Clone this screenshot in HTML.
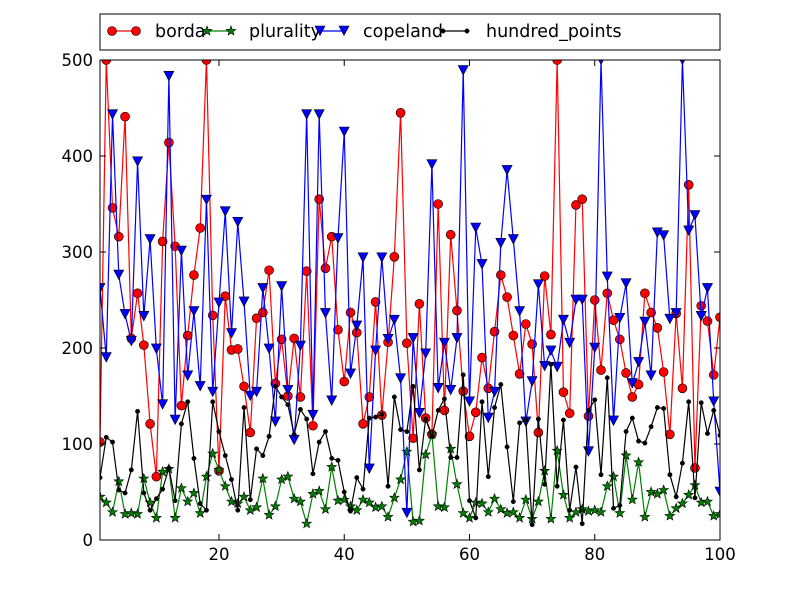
<!DOCTYPE html>
<html><head><meta charset="utf-8"><style>
html,body{margin:0;padding:0;background:#fff;width:800px;height:600px;overflow:hidden}
svg{display:block;font-family:"DejaVu Sans","Liberation Sans",sans-serif}
</style></head><body>
<svg id="chart" width="800" height="600" xmlns="http://www.w3.org/2000/svg">
<rect x="0" y="0" width="800" height="600" fill="#fff"/>
<g id="plot"></g>
<rect x="100" y="60" width="620" height="480" fill="none" stroke="#000" stroke-width="1"/>
<g id="ticks"></g>
<g id="legend">
<rect x="100" y="14" width="620" height="36" fill="#fff" stroke="#000" stroke-width="1"/>
</g>
</svg>
<script>
const borda=[102,500,346,316,441,210,257,203,121,66,311,414,306,140,213,276,325,500,234,72,254,198,199,160,112,231,237,281,163,209,150,210,149,280,119,355,283,316,219,165,237,216,121,149,248,130,206,295,445,205,106,246,127,110,350,135,318,239,155,108,133,190,158,217,276,253,213,173,225,204,112,275,214,500,154,132,349,355,129,250,177,257,229,209,174,149,162,257,237,221,175,110,236,158,370,75,244,228,172,232];
const plurality=[45,39,29,61,27,28,27,64,39,23,71,74,23,54,40,49,28,66,90,73,56,40,38,45,31,34,64,26,35,63,66,43,40,17,48,51,32,76,41,42,35,31,42,39,34,35,24,44,63,92,19,20,89,110,35,34,95,58,28,23,39,38,29,43,32,28,29,23,42,22,40,72,22,93,47,23,29,32,30,31,29,56,66,28,88,42,81,24,50,48,52,25,33,38,47,57,39,40,25,27];
const copeland=[262,190,443,276,235,207,394,233,313,199,141,483,125,301,171,238,160,354,154,247,342,215,331,248,150,154,262,199,123,264,156,104,202,443,130,443,236,145,314,425,173,223,294,74,197,294,209,229,168,28,210,132,194,391,158,205,156,210,489,144,325,287,127,154,309,385,313,238,123,165,266,181,197,180,229,205,250,250,92,200,500,274,124,231,267,163,185,227,171,320,317,230,236,500,322,338,233,262,144,50];
const hundred=[65,107,102,52,49,73,134,49,31,43,53,75,41,121,144,85,38,31,144,113,88,63,31,138,42,95,88,108,160,149,141,110,136,126,69,102,113,85,83,50,30,65,53,127,128,131,56,149,115,113,160,73,126,108,135,147,86,86,172,41,23,144,66,138,162,97,40,122,125,16,126,58,183,56,125,31,76,17,135,146,68,169,33,36,113,127,103,101,118,138,137,68,45,80,144,44,143,111,135,109];
const xTicks=[20,40,60,80,100];
const yTicks=[0,100,200,300,400,500];
const NS="http://www.w3.org/2000/svg";
const X=v=>100+(v-1)*620/99;
const Y=v=>540-v*480/500;
function mk(t,a,p){const e=document.createElementNS(NS,t);for(const k in a)e.setAttribute(k,a[k]);p.appendChild(e);return e;}
function star(cx,cy,r){let p=[];for(let i=0;i<10;i++){const rr=i%2?r*0.42:r;const a=-Math.PI/2+i*Math.PI/5;p.push((cx+rr*Math.cos(a)).toFixed(1)+","+(cy+rr*Math.sin(a)).toFixed(1));}return p.join(" ");}
function marker(g,type,cx,cy,col){
 let m;
 if(type==="o")m=mk("circle",{cx:cx,cy:cy,r:4.5,fill:col,stroke:"#000","stroke-width":0.6},g);
 else if(type==="*")m=mk("polygon",{points:star(cx,cy,5),fill:col,stroke:"#000","stroke-width":0.6},g);
 else if(type==="v")m=mk("polygon",{points:`${cx-5},${cy-5} ${cx+5},${cy-5} ${cx},${cy+4.5}`,fill:col,stroke:"#000","stroke-width":0.6},g);
 else m=mk("circle",{cx:cx,cy:cy,r:2.2,fill:col,stroke:col,"stroke-width":0.5},g);
 return m;
}
const plot=document.getElementById("plot");
const series=[
 {name:"borda",data:borda,col:"#ff0000",m:"o"},
 {name:"plurality",data:plurality,col:"#008000",m:"*"},
 {name:"copeland",data:copeland,col:"#0000ff",m:"v"},
 {name:"hundred_points",data:hundred,col:"#000000",m:"."}
];
const clip=mk("clipPath",{id:"cp"},plot);mk("rect",{x:100,y:60,width:620,height:480},clip);
series.forEach(s=>{
 const g=mk("g",{"clip-path":"url(#cp)"},plot);
 
 
 const pts=s.data.map((v,i)=>X(i+1).toFixed(2)+","+Y(v).toFixed(2)).join(" ");
 const pl=mk("polyline",{points:pts,fill:"none",stroke:s.col,"stroke-width":1.2},g);
 
 
 s.data.forEach((v,i)=>{
  const m=marker(g,s.m,X(i+1),Y(v),s.col);
  
  
 });
});
const tk=document.getElementById("ticks");
xTicks.forEach(t=>{
 const x=X(t);
 mk("line",{x1:x,y1:540,x2:x,y2:534,stroke:"#000"},tk);
 mk("line",{x1:x,y1:60,x2:x,y2:66,stroke:"#000"},tk);
 const tx=mk("text",{x:x,y:560,"text-anchor":"middle","font-size":16.5,fill:"#000"},tk);
 tx.textContent=t;
 
 
});
yTicks.forEach(t=>{
 const y=Y(t);
 mk("line",{x1:100,y1:y,x2:106,y2:y,stroke:"#000"},tk);
 mk("line",{x1:720,y1:y,x2:714,y2:y,stroke:"#000"},tk);
 const tx=mk("text",{x:93,y:y+6,"text-anchor":"end","font-size":16.5,fill:"#000"},tk);
 tx.textContent=t;
 
 
});
const lg=document.getElementById("legend");
const lx=[[112,136,155],[207,231,249],[320,344,363],[443,467,486]];
series.forEach((s,i)=>{
 const g=mk("g",{},lg);
 
 
 const [a,b,t]=lx[i];
 mk("line",{x1:a,y1:31,x2:b,y2:31,stroke:s.col,"stroke-width":1.2},g);
 marker(g,s.m,a,31,s.col);marker(g,s.m,b,31,s.col);
 const tx=mk("text",{x:t,y:37,"font-size":17.5,fill:"#000"},g);
 tx.textContent=s.name;
});
</script>
</body></html>
